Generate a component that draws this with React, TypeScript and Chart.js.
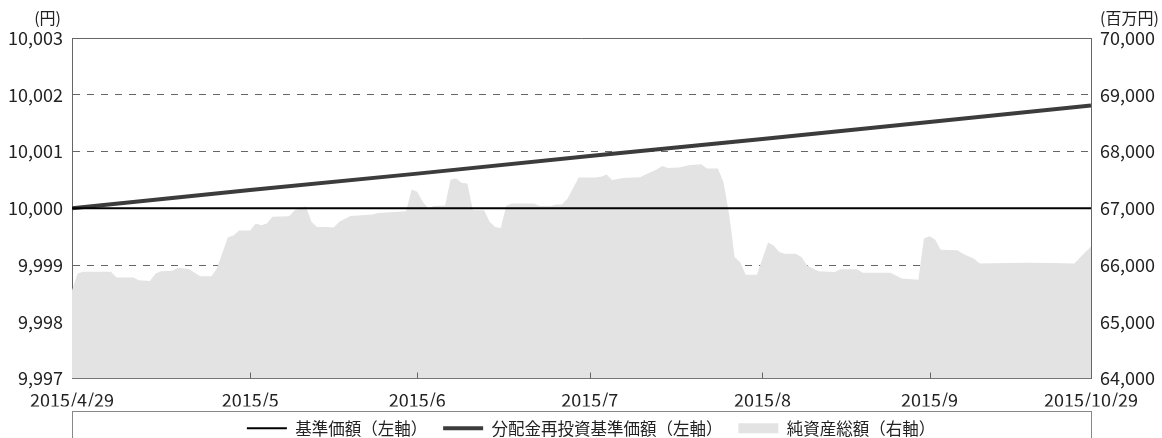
import React, { useEffect, useRef } from 'react';
import { Chart, registerables } from 'chart.js';

Chart.register(...registerables);

// ---- data ----
const START_DATE = '2015/4/29';

const tickDates = ['2015/4/29', '2015/5/31', '2015/6/30', '2015/7/31', '2015/8/31', '2015/9/30', '2015/10/29'];
const tickLabels = ['2015/4/29', '2015/5', '2015/6', '2015/7', '2015/8', '2015/9', '2015/10/29'];

// 基準価額 (円) at month ends
const navDates = tickDates;
const navValues = [10000, 10000, 10000, 10000, 10000, 10000, 10000];
// 分配金再投資基準価額 (円)
const reinvestValues = [10000.0, 10000.32, 10000.61, 10000.92, 10001.22, 10001.52, 10001.81];

// 純資産総額 (百万円)
const assetDates = [
  '2015/4/29', '2015/4/30', '2015/5/1', '2015/5/6', '2015/5/7', '2015/5/10', '2015/5/11', '2015/5/13',
  '2015/5/14', '2015/5/15', '2015/5/17', '2015/5/18', '2015/5/20', '2015/5/22', '2015/5/24', '2015/5/25',
  '2015/5/27', '2015/5/28', '2015/5/29', '2015/5/31', '2015/6/1', '2015/6/2', '2015/6/3', '2015/6/4',
  '2015/6/7', '2015/6/8', '2015/6/9', '2015/6/10', '2015/6/11', '2015/6/12', '2015/6/14', '2015/6/15',
  '2015/6/16', '2015/6/18', '2015/6/22', '2015/6/23', '2015/6/28', '2015/6/29', '2015/6/30', '2015/7/1',
  '2015/7/2', '2015/7/3', '2015/7/5', '2015/7/6', '2015/7/7', '2015/7/8', '2015/7/9', '2015/7/10',
  '2015/7/12', '2015/7/13', '2015/7/14', '2015/7/15', '2015/7/16', '2015/7/17', '2015/7/21', '2015/7/22',
  '2015/7/24', '2015/7/25', '2015/7/26', '2015/7/27', '2015/7/29', '2015/8/1', '2015/8/2', '2015/8/3',
  '2015/8/4', '2015/8/6', '2015/8/9', '2015/8/11', '2015/8/12', '2015/8/13', '2015/8/14', '2015/8/16',
  '2015/8/18', '2015/8/20', '2015/8/21', '2015/8/23', '2015/8/24', '2015/8/25', '2015/8/26', '2015/8/27',
  '2015/8/28', '2015/8/30', '2015/9/1', '2015/9/2', '2015/9/3', '2015/9/4', '2015/9/6', '2015/9/7',
  '2015/9/8', '2015/9/10', '2015/9/13', '2015/9/14', '2015/9/17', '2015/9/18', '2015/9/23', '2015/9/25',
  '2015/9/28', '2015/9/29', '2015/9/30', '2015/10/1', '2015/10/2', '2015/10/5', '2015/10/6', '2015/10/8',
  '2015/10/9', '2015/10/14', '2015/10/18', '2015/10/22', '2015/10/26', '2015/10/28', '2015/10/29',
];
const assetValues = [
  65550, 65850, 65880, 65880, 65780, 65780, 65730, 65720,
  65850, 65890, 65900, 65950, 65930, 65800, 65800, 65935,
  66490, 66520, 66610, 66610, 66730, 66700, 66730, 66850,
  66860, 66965, 66995, 67035, 66760, 66670, 66670, 66660,
  66760, 66865, 66890, 66915, 66945, 67330, 67290, 67110,
  66995, 67040, 67050, 67505, 67525, 67445, 67435, 66965,
  66965, 66760, 66670, 66650, 67050, 67085, 67085, 67040,
  67040, 67065, 67065, 67170, 67540, 67540, 67555, 67595,
  67500, 67535, 67545, 67640, 67685, 67745, 67710, 67720,
  67760, 67775, 67700, 67700, 67460, 66900, 66140, 66050,
  65830, 65830, 66395, 66345, 66230, 66200, 66200, 66140,
  65995, 65890, 65875, 65925, 65925, 65865, 65865, 65760,
  65740, 66465, 66505, 66450, 66270, 66260, 66200, 66110,
  66025, 66035, 66040, 66035, 66025, 66230, 66320,
];

const seriesNames = ['基準価額（左軸）', '分配金再投資基準価額（左軸）', '純資産総額（右軸）'];
const leftUnit = '(円)';
const rightUnit = '(百万円)';

// ---- helpers ----
const toUTC = (s: string) => {
  const [y, m, d] = s.split('/').map(Number);
  return Date.UTC(y, m - 1, d);
};
const dayOf = (s: string) => Math.round((toUTC(s) - toUTC(START_DATE)) / 86400000);

const FONT = "'Noto Sans CJK JP', 'Noto Sans', sans-serif";
const TEXT = '#222222';
const AXIS = '#666666';
const AREA = '#e3e3e3';
const REINVEST = '#3c3c3c';
const LEGEND_FONT = 16.5;
const LEGEND_PAD = 16;
const LEGEND_CENTER_Y = 428;

const decorPlugin = {
  id: 'decor',
  afterLayout(chart: any) {
    const lg = chart.legend;
    if (lg) {
      const h = lg.bottom - lg.top;
      lg.top = Math.round(LEGEND_CENTER_Y - LEGEND_PAD - LEGEND_FONT / 2);
      lg.bottom = lg.top + h;
    }
  },
  afterDraw(chart: any) {
    const { ctx, chartArea } = chart;
    const { left, right, top, bottom } = chartArea;
    ctx.save();
    ctx.strokeStyle = AXIS;
    ctx.lineWidth = 1;
    // top frame line
    ctx.beginPath();
    const ty = Math.round(top) + 0.5;
    ctx.moveTo(left, ty);
    ctx.lineTo(right, ty);
    ctx.stroke();
    // inward tick marks on the date axis (interior month ends)
    const xs = chart.scales.x;
    const inner = xs.ticks.slice(1, -1);
    ctx.beginPath();
    inner.forEach((t: any) => {
      const px = Math.round(xs.getPixelForValue(t.value)) + 0.5;
      ctx.moveTo(px, bottom);
      ctx.lineTo(px, bottom - 6);
    });
    ctx.stroke();
    // legend frame
    ctx.strokeStyle = '#888888';
    ctx.strokeRect(Math.round(left) + 0.5, LEGEND_CENTER_Y - 17 + 0.5, Math.round(right - left), 60);
    // unit labels
    ctx.fillStyle = TEXT;
    ctx.font = `16px ${FONT}`;
    ctx.textBaseline = 'middle';
    ctx.textAlign = 'right';
    ctx.fillText(leftUnit, left - 11, 18);
    ctx.textAlign = 'left';
    ctx.fillText(rightUnit, right + 9, 18);
    ctx.restore();
  },
};

export default function App() {
  const canvasRef = useRef<HTMLCanvasElement | null>(null);

  useEffect(() => {
    document.body.style.margin = '0';
    document.body.style.overflow = 'hidden';
    const canvas = canvasRef.current;
    if (!canvas) return;

    const tickValues = tickDates.map(dayOf);
    const endDay = tickValues[tickValues.length - 1];

    const chart = new Chart(canvas, {
      type: 'line',
      data: {
        datasets: [
          {
            label: seriesNames[0],
            data: navDates.map((d, i) => ({ x: dayOf(d), y: navValues[i] })),
            yAxisID: 'y',
            borderColor: '#000000',
            borderWidth: 2.2,
            pointRadius: 0,
            fill: false,
            tension: 0,
          },
          {
            label: seriesNames[1],
            data: navDates.map((d, i) => ({ x: dayOf(d), y: reinvestValues[i] })),
            yAxisID: 'y',
            borderColor: REINVEST,
            borderWidth: 4,
            pointRadius: 0,
            fill: false,
            tension: 0,
          },
          {
            label: seriesNames[2],
            data: assetDates.map((d, i) => ({ x: dayOf(d), y: assetValues[i] })),
            yAxisID: 'y2',
            borderColor: AREA,
            borderWidth: 0,
            backgroundColor: AREA,
            pointRadius: 0,
            fill: 'start',
            tension: 0,
          },
        ],
      },
      options: {
        responsive: false,
        animation: false,
        devicePixelRatio: 1,
        layout: { padding: { top: 38, left: 0, right: -20, bottom: -11 } },
        plugins: {
          tooltip: { enabled: false },
          legend: {
            display: true,
            position: 'bottom',
            labels: {
              usePointStyle: true,
              pointStyleWidth: 40,
              boxHeight: 10,
              padding: LEGEND_PAD,
              color: TEXT,
              font: { family: FONT, size: LEGEND_FONT },
              generateLabels: () => [
                {
                  text: seriesNames[0],
                  pointStyle: 'line',
                  strokeStyle: '#000000',
                  fillStyle: '#000000',
                  lineWidth: 2,
                  hidden: false,
                  datasetIndex: 0,
                  fontColor: TEXT,
                },
                {
                  text: seriesNames[1],
                  pointStyle: 'line',
                  strokeStyle: REINVEST,
                  fillStyle: REINVEST,
                  lineWidth: 4,
                  hidden: false,
                  datasetIndex: 1,
                  fontColor: TEXT,
                },
                {
                  text: seriesNames[2],
                  pointStyle: 'rect',
                  strokeStyle: AREA,
                  fillStyle: AREA,
                  lineWidth: 0,
                  hidden: false,
                  datasetIndex: 2,
                  fontColor: TEXT,
                },
              ],
            },
          },
        },
        scales: {
          x: {
            type: 'linear',
            position: 'bottom',
            min: 0,
            max: endDay,
            afterBuildTicks: (scale: any) => {
              scale.ticks = tickValues.map((v) => ({ value: v }));
            },
            afterFit: (scale: any) => {
              scale.height = 28;
            },
            grid: { display: false, drawTicks: false },
            border: { display: true, color: AXIS, width: 1 },
            ticks: {
              autoSkip: false,
              maxRotation: 0,
              padding: 11,
              color: TEXT,
              font: { family: FONT, size: 18 },
              callback: (value: any) => {
                const i = tickValues.indexOf(Number(value));
                return i >= 0 ? tickLabels[i] : '';
              },
            },
          },
          y: {
            type: 'linear',
            position: 'left',
            min: 9997,
            max: 10003,
            afterFit: (scale: any) => {
              scale.width = 72;
            },
            grid: {
              drawTicks: false,
              lineWidth: 1,
              color: (ctx: any) => {
                const v = ctx.tick ? ctx.tick.value : null;
                return v === 10003 || v === 10000 || v === 9997 ? 'rgba(0,0,0,0)' : '#666666';
              },
            },
            border: { display: true, color: AXIS, width: 1, dash: [7, 7] },
            ticks: {
              stepSize: 1,
              padding: 9,
              color: TEXT,
              font: { family: FONT, size: 18 },
              callback: (value: any) => Number(value).toLocaleString('en-US'),
            },
          },
          y2: {
            type: 'linear',
            position: 'right',
            min: 64000,
            max: 70000,
            afterFit: (scale: any) => {
              scale.width = 91;
            },
            grid: { drawOnChartArea: false, drawTicks: false },
            border: { display: true, color: AXIS, width: 1 },
            ticks: {
              stepSize: 1000,
              padding: 9,
              color: TEXT,
              font: { family: FONT, size: 18 },
              callback: (value: any) => Number(value).toLocaleString('en-US'),
            },
          },
        },
      },
      plugins: [decorPlugin],
    } as any);

    return () => {
      chart.destroy();
    };
  }, []);

  return (
    <div style={{ width: 1162, height: 438 }}>
      <canvas ref={canvasRef} width={1162} height={438} style={{ display: 'block' }} />
    </div>
  );
}
